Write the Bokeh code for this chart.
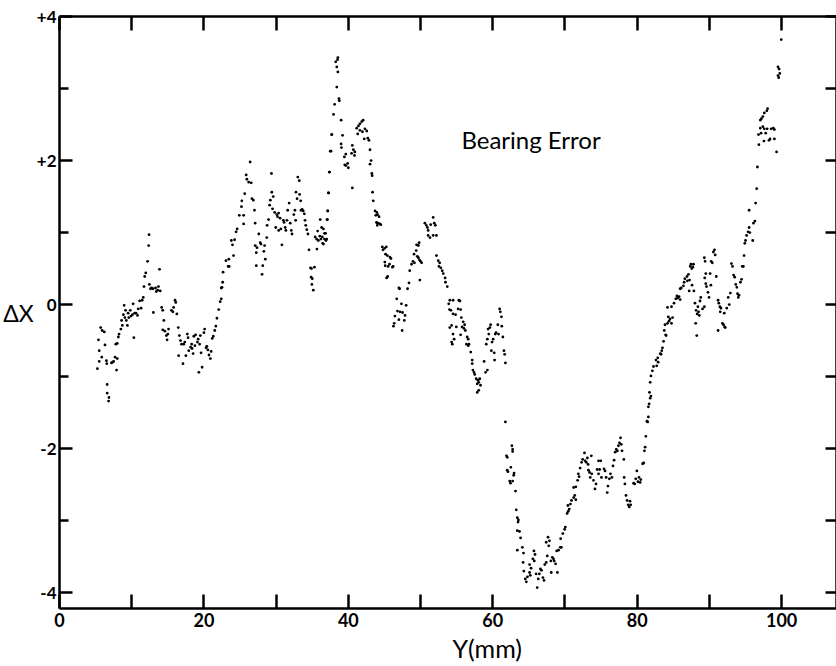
from bokeh.plotting import figure
from bokeh.models import LinearAxis, Range1d, FixedTicker, Label, Title
from bokeh.embed import file_html
from bokeh.resources import INLINE

# ---- data: Y position (mm) and bearing error dX ----
y_mm_a = [5.25,5.4,5.5,5.5,5.7,5.85,5.9,6.2,6.3,6.5, 6.55,6.6,6.6,6.85,6.8,7.2,7.35,7.5,7.7,7.9,
          8.0,7.8,8.0,8.15,8.25,8.5,8.6,8.7,8.85,8.95, 9.05,9.15,9.25,9.4,9.5,9.6,9.8,9.9,10.1,10.2,
          10.3,10.4,10.6,10.8,10.9,11.1,11.3,11.45,11.6,11.7, 11.8,11.95,12.2,12.35,12.4,12.45,12.6,12.75,12.95,13.3,
          13.4,13.6,13.7,13.85,13.95,13.0,14.15,14.3,14.45,14.3, 14.6,14.8,14.9,15.0,15.1,15.5,15.7,15.8,16.0,16.1,
          16.25,16.45,16.6,16.75,16.9,16.5,17.1,17.2,17.35,17.5, 17.7,17.8,17.9,18.15,18.3,18.35,18.5,18.6,18.75,18.85,
          19.1,19.2,19.3,19.4,19.5,19.6,19.75,20.0,20.1,20.3, 20.4,20.55,20.7,20.9,21.0,21.15,21.3,21.5,21.65,21.8,
          22.05,22.25,22.4]
dx_a = [-0.89,-0.49,-0.79,-0.64,-0.32,-0.73,-0.36,-0.38,-0.56,-0.78, -0.82,-1.11,-1.23,-1.29,-1.34,-0.81,-0.80,-0.79,-0.73,-0.91,
        -0.75,-0.55,-0.54,-0.45,-0.41,-0.34,-0.22,-0.29,-0.14,-0.01, -0.18,-0.08,-0.22,-0.29,-0.12,-0.18,-0.08,-0.16,-0.14,0.01,
        -0.46,-0.12,-0.12,-0.15,-0.06,0.05,-0.05,0.06,0.10,0.25, 0.39,0.44,0.60,0.82,0.97,0.28,0.22,0.23,0.22,0.23,
        0.18,0.2,0.25,0.49,0.19,-0.11,-0.04,-0.08,-0.22,-0.35, -0.37,-0.43,-0.49,-0.41,-0.34,-0.08,-0.10,-0.04,0.06,0.03,
        -0.13,-0.32,-0.43,-0.5,-0.55,-0.71,-0.82,-0.55,-0.52,-0.71, -0.41,-0.46,-0.64,-0.59,-0.55,-0.61,-0.68,-0.44,-0.57,-0.42,
        -0.52,-0.48,-0.94,-0.55,-0.43,-0.67,-0.87,-0.39,-0.34,-0.6, -0.58,-0.63,-0.7,-0.75,-0.65,-0.47,-0.44,-0.36,-0.3,-0.19,
        -0.07,0.04,0.23]

y_mm_b = [22.4,22.5,22.6,22.65,23.05,23.35,23.5,23.45,23.8,23.95, 24.1,24.25,24.45,24.6,24.9,25.2,25.25,25.5,25.5,25.65,
          25.85,25.95,26.2,26.4,26.55,26.65,26.85,27.0,27.1,27.1, 27.25,27.35,27.25,27.6,27.8,27.9,28.15,28.05,28.3,28.4,
          28.5,28.7,28.75,28.95,29.1,29.2,29.4,29.35,29.5,29.6, 29.8,29.95,30.1,30.2,30.35,30.55,30.35,30.65,30.8,31.0,
          31.1,31.25,31.35,31.5,31.6,31.8,31.95,32.1,32.2,32.45, 32.6,32.7,32.75,32.9,33.0,33.2,33.25,33.4,33.45,33.6,
          33.75,33.9,34.0,34.1,34.25,34.4,34.55,34.75,34.9,34.85, 35.0,34.95,35.15,35.3,35.4,35.6,35.75,35.85,35.65,36.05,
          36.2,36.3,36.4,36.55,36.7,36.85,37.0,36.1,37.1,37.15, 37.25,37.4,37.6,37.7]
dx_b = [0.08,0.24,0.31,0.45,0.61,0.53,0.53,0.63,0.89,0.83, 0.68,0.9,1.01,1.05,1.24,1.36,1.44,1.12,1.24,1.54,
        1.8,1.74,1.7,1.98,1.69,1.47,1.45,1.31,1.13,0.82, 0.72,0.79,0.54,0.98,0.86,0.84,0.54,0.42,0.74,0.82,
        0.63,0.93,1.1,1.18,1.38,1.45,1.56,1.82,1.33,1.5, 1.28,1.07,1.25,1.22,1.27,1.2,1.03,1.05,0.83,1.17,
        1.14,1.07,1.03,1.17,1.31,1.41,1.13,1.03,0.98,1.25, 1.31,1.17,1.56,1.47,1.77,1.72,1.53,1.44,1.31,1.32,
        1.3,1.26,1.17,1.1,1.04,0.98,0.76,0.51,0.5,0.38, 0.36,0.28,0.2,0.52,0.94,0.91,1.02,0.89,0.77,0.95,
        0.91,1.07,0.94,0.84,0.91,0.99,0.91,1.18,1.18,1.3, 1.55,1.84,2.13,2.36]

y_mm_c = [38.55,38.5,38.25,38.4,38.55,38.4,38.7,38.75,38.1,37.95, 39.0,37.7,39.2,37.5,39.0,39.05,39.65,39.45,39.65,39.9,
          40.0,39.5,40.55,40.7,40.45,40.85,40.9,40.55,37.35,37.25, 37.15,37.05,36.55,36.7,36.9,36.45,41.15,41.4,41.6,41.85,
          42.05,41.6,41.95,42.3,42.55,41.3,42.2,42.7,42.85,43.0, 43.15,43.0,43.25,43.3,43.35,43.45,43.7,43.95,43.8,44.05,
          44.25,43.9,44.1,44.35,44.0,44.5,44.7,45.0,44.8,45.25, 45.15,45.4,45.75,45.9,45.05,45.1,45.5,45.7,46.1,46.2,
          45.45,45.3,47.0,47.1,48.4,48.2,46.7,47.35,48.0,46.8, 47.15,47.5,47.85,46.45,47.0,47.75,46.35,46.25,47.45,48.5,
          48.75,48.95,49.15,49.1,49.4,49.55,49.7,49.85,50.0,50.15, 49.9,49.7,49.8,49.45,50.6,50.8,50.95,51.05,51.4,51.75,
          51.9,52.05,51.05,51.3,51.75,52.2,52.2,52.45,52.65,52.55, 52.8,53.0,53.15,53.4,53.45,53.7,53.9,54.0,54.05]
dx_c = [3.43,3.4,3.37,3.3,3.23,3.02,2.86,2.83,2.78,2.64, 2.56,2.36,2.35,2.13,2.23,2.18,2.09,2.05,1.93,1.96,
        1.9,1.94,2.21,2.15,2.1,2.07,2.12,1.62,1.84,1.55, 1.3,1.18,1.05,0.99,0.89,0.85,2.45,2.48,2.51,2.54,
        2.56,2.42,2.4,2.44,2.41,2.37,2.3,2.31,2.28,2.15, 2.0,1.95,1.82,1.79,1.56,1.44,1.3,1.28,1.24,1.25,
        1.22,1.14,1.13,1.12,1.1,1.11,0.8,0.78,0.76,0.8, 0.7,0.68,0.66,0.64,0.59,0.54,0.53,0.56,0.52,0.53,
        0.39,0.37,0.23,0.22,0.3,0.22,0.08,0.01,-0.01,-0.09, -0.1,-0.11,-0.15,-0.16,-0.21,-0.22,-0.26,-0.3,-0.36,0.47,
        0.56,0.6,0.58,0.7,0.75,0.67,0.65,0.62,0.6,0.58, 0.34,0.82,0.86,0.83,1.13,1.1,1.07,1.03,1.11,1.21,
        1.13,1.1,0.96,0.93,0.96,0.96,0.68,0.61,0.58,0.53, 0.51,0.47,0.43,0.37,0.31,0.25,0.01,-0.07,-0.32]

y_mm_d = [54.05,54.5,55.3,55.45,55.2,55.55,54.2,54.5,54.85,55.65, 55.9,55.75,56.1,56.0,56.2,54.3,54.5,54.65,54.3,54.4,
          54.95,55.55,56.45,56.6,56.35,56.6,56.7,56.95,57.15,57.15, 57.25,57.4,57.5,57.7,57.95,58.05,58.2,57.85,58.05,57.85,
          58.3,58.8,59.0,59.25,59.1,59.25,59.45,59.6,59.7,59.35, 59.9,60.05,59.8,60.2,60.25,60.35,60.45,60.7,60.8,60.95,
          61.05,61.2,61.25,61.4,61.55,61.65,61.75]
dx_d = [0.06,0.06,0.06,0.05,-0.06,-0.07,-0.08,-0.13,-0.14,-0.18, -0.24,-0.31,-0.28,-0.33,-0.36,-0.29,-0.41,-0.48,-0.52,-0.55,
        -0.31,-0.42,-0.45,-0.48,-0.55,-0.57,-0.55,-0.66,-0.77,-0.82, -0.91,-0.94,-0.97,-1.03,-1.05,-1.08,-1.03,-1.1,-1.19,-1.22,
        -1.12,-0.79,-0.94,-0.91,-0.55,-0.48,-0.41,-0.32,-0.28,-0.34, -0.52,-0.48,-0.64,-0.67,-0.77,-0.41,-0.39,-0.28,-0.41,-0.06,
        -0.1,-0.17,-0.3,-0.45,-0.64,-0.69,-0.81]

y_mm_e = [61.75,61.9,62.0,62.65,62.75,62.75,62.0,62.1,62.5,62.95, 62.9,62.35,62.45,62.75,63.15,63.25,63.4,63.55,63.5,63.4,
          63.7,63.85,63.4,64.1,64.25,64.2,64.3,64.5,64.65,64.8, 65.1,65.2,65.1,65.3,65.55,65.7,65.85,65.75,66.0,66.15,
          66.3,66.45,66.6,66.75,66.95,67.1,67.2,67.4,67.55,67.4, 67.65,67.85,67.75,68.05,68.25,68.4,68.5,68.1,68.7,68.95,
          68.85,69.1,69.35,69.5,69.4,69.7,69.95,70.05,70.3,70.45, 70.4,70.75,70.6,70.9,71.2,71.35,71.5,71.2,71.5,71.75,
          71.95,71.85,72.1,72.3,72.45,72.7,72.8,72.95,73.1,73.2, 73.25,73.4,73.65,73.5,73.7,73.95,74.15,74.3,74.45,74.65,
          74.8,74.95,74.65,75.05,75.4,75.55,75.7,75.85,75.95,76.15, 76.3,76.5,76.65,76.8,76.95,77.1,77.25,77.4,77.55,77.7,
          77.8,77.9,78.15,78.2,78.3,78.45,78.6,78.75,79.0,78.9, 79.1,79.5,79.65,79.8,79.95,80.1,80.25,80.4,80.5,80.75,
          80.9,81.0,81.1,81.2,81.45,81.55,81.65,81.8,81.9,81.9,
          81.55,81.35,81.7,81.8,82.1,82.25,82.7,82.9,83.3,83.5,84.0]
dx_e = [-1.63,-2.1,-2.12,-1.96,-2.01,-2.04,-2.3,-2.32,-2.26,-2.34, -2.37,-2.45,-2.48,-2.45,-2.59,-2.85,-2.96,-2.99,-3.02,-3.14,
        -3.15,-3.24,-3.41,-3.37,-3.45,-3.58,-3.7,-3.81,-3.85,-3.78, -3.72,-3.76,-3.61,-3.66,-3.53,-3.42,-3.47,-3.56,-3.74,-3.93,
        -3.81,-3.74,-3.67,-3.69,-3.79,-3.83,-3.61,-3.58,-3.49,-3.3, -3.23,-3.28,-3.35,-3.56,-3.51,-3.53,-3.56,-3.72,-3.6,-3.72,
        -3.42,-3.41,-3.37,-3.37,-3.25,-3.18,-3.12,-3.09,-2.9,-2.87, -2.79,-2.77,-2.84,-2.72,-2.68,-2.65,-2.71,-2.54,-2.53,-2.44,
        -2.39,-2.35,-2.27,-2.19,-2.15,-2.06,-2.17,-2.19,-2.13,-2.22, -2.3,-2.33,-2.1,-2.4,-2.35,-2.44,-2.56,-2.49,-2.29,-2.17,
        -2.29,-2.17,-2.35,-2.4,-2.28,-2.31,-2.4,-2.61,-2.52,-2.42, -2.35,-2.4,-2.24,-2.16,-2.05,-2.01,-2.03,-1.96,-1.92,-1.85,
        -1.94,-2.03,-2.15,-2.4,-2.49,-2.65,-2.72,-2.78,-2.73,-2.81, -2.78,-2.48,-2.49,-2.42,-2.31,-2.46,-2.4,-2.47,-2.43,-2.21,
        -2.2,-2.03,-1.98,-1.83,-1.63,-1.56,-1.38,-1.3,-1.27,-0.99,
        -1.42,-1.62,-1.22,-1.08,-0.92,-0.86,-0.85,-0.8,-0.69,-0.6,-0.43]

y_mm_f = [82.6,82.85,83.2,83.4,83.65,83.75,83.95,83.85,84.2,84.4, 84.55,84.75,84.9,84.3,84.2,84.75,85.1,85.35,85.6,85.8,
          85.5,85.95,86.1,86.4,85.95,86.5,86.6,86.9,87.1,87.25, 87.35,87.7,87.45,87.8,87.55,86.95,87.2,87.6,87.85,88.0,
          88.15,88.3,88.4,88.5,88.6,88.1,88.25,88.7,88.8,89.05, 89.3,89.35,89.5,89.3,89.4,89.5,89.6,89.8,89.95,90.1,
          90.2,90.25,90.4,90.55,90.7,90.8,90.95,91.2,91.3,91.45, 91.6,91.5,91.8,91.95,92.1,92.2,91.2,92.05,92.4,92.6,
          92.75,92.9,93.05,93.35,93.2,93.5,93.65,93.8,93.9,94.0, 94.1,94.3,94.45,94.55,94.7,94.8,94.9,95.0,95.15,95.35,
          95.5,95.6,96.0,96.1,96.3,95.5,96.4,96.55,96.65,96.85, 96.8,97.15,97.05,97.4,97.55,97.6,97.8,98.0,98.25,98.4,
          98.55,98.85,99.0,99.0,99.3,97.05,97.2,97.4,97.6,97.95, 98.05,99.5,99.65,99.75,99.5,99.6,99.95]
dx_f = [-0.77,-0.74,-0.68,-0.64,-0.51,-0.36,-0.42,-0.28,-0.26,-0.23, -0.2,-0.26,-0.18,-0.17,-0.04,-0.03,0.02,0.08,0.09,0.11,
        0.12,0.22,0.23,0.26,0.07,0.31,0.36,0.39,0.42,0.34, 0.53,0.52,0.56,0.56,0.5,0.33,0.19,0.27,0.19,0.02,
        -0.08,-0.13,-0.03,-0.1,-0.15,-0.26,-0.43,0.05,0.1,-0.06, -0.03,0.37,0.29,0.65,0.6,0.43,0.25,0.17,0.1,0.43,
        0.27,0.6,0.58,0.73,0.76,0.69,0.39,0.06,0.02,-0.03, -0.05,-0.1,-0.26,-0.28,-0.31,-0.32,-0.36,-0.12,-0.05,0.1,
        0.0,0.16,0.57,0.41,0.53,0.38,0.28,0.24,0.15,0.1, 0.13,0.31,0.35,0.53,0.53,0.68,0.85,0.89,0.96,1.01,
        1.07,1.0,0.89,1.13,1.16,1.31,1.41,1.61,1.91,2.22, 2.36,2.38,2.45,2.47,2.27,2.44,2.38,2.44,2.28,2.3,
        2.44,2.45,2.43,2.3,2.12,2.56,2.58,2.61,2.66,2.69, 2.72,3.3,3.27,3.21,3.18,3.15,3.68]

x_ticks = [0, 20, 40, 60, 80, 100]
x_minor_ticks = [10, 30, 50, 70, 90]
y_ticks = [-4, -2, 0, 2, 4]
y_minor_ticks = [-3, -1, 1, 3]
y_labels = {4: "+4", 2: "+2", 0: "0", -2: "-2", -4: "-4"}

y_mm = y_mm_a + y_mm_b + y_mm_c + y_mm_d + y_mm_e + y_mm_f
delta_x = dx_a + dx_b + dx_c + dx_d + dx_e + dx_f

FONT = "Lato"

p = figure(width=836, height=666, output_backend="svg", toolbar_location=None,
           x_range=Range1d(0, 107.6), y_range=Range1d(-4.22, 4.0),
           min_border_left=57, min_border_right=0, min_border_top=16, min_border_bottom=58)
p.outline_line_color = None
p.grid.visible = False
p.background_fill_color = "white"
p.border_fill_color = "white"

p.scatter(y_mm, delta_x, marker="circle", size=2.8, fill_color="black", line_color=None)


def style(ax, tick_in, minor_in, font_size):
    ax.axis_line_width = 2.5
    ax.axis_line_color = "black"
    ax.major_tick_line_width = 2.5
    ax.minor_tick_line_width = 2.5
    ax.major_tick_line_color = "black"
    ax.minor_tick_line_color = "black"
    ax.major_tick_out = 0
    ax.minor_tick_out = 0
    ax.major_tick_in = tick_in
    ax.minor_tick_in = minor_in
    ax.major_label_text_font = FONT
    ax.major_label_text_font_size = font_size
    ax.major_label_text_color = "black"
    ax.major_label_text_font_style = "bold"


xa = p.xaxis[0]
xa.ticker = FixedTicker(ticks=x_ticks, minor_ticks=x_minor_ticks)
style(xa, 14, 14, "18px")
xa.major_label_standoff = 4

ya = p.yaxis[0]
ya.ticker = FixedTicker(ticks=y_ticks, minor_ticks=y_minor_ticks)
ya.major_label_overrides = y_labels
style(ya, 13, 9, "17px")
ya.major_label_standoff = 3
ya.axis_label = "ΔX"
ya.axis_label_text_font = FONT
ya.axis_label_text_font_size = "23px"
ya.axis_label_text_font_style = "normal"
ya.axis_label_text_color = "black"
ya.axis_label_standoff = 0
if hasattr(ya, "axis_label_orientation"):
    ya.axis_label_orientation = "horizontal"

top_ticks = x_ticks + x_minor_ticks
top = LinearAxis(ticker=FixedTicker(ticks=top_ticks, minor_ticks=[]))
style(top, 14, 0, "1px")
top.major_label_overrides = {t: "" for t in top_ticks}
top.major_label_standoff = 0
p.add_layout(top, "above")

right_ticks = y_ticks + y_minor_ticks
right = LinearAxis(ticker=FixedTicker(ticks=right_ticks, minor_ticks=[]))
style(right, 11, 0, "1px")
right.major_label_overrides = {t: "" for t in right_ticks}
right.major_label_standoff = 0
p.add_layout(right, "right")

p.add_layout(Label(x=65.3, y=2.29, text="Bearing Error", text_font=FONT, text_font_size="24px",
                   text_align="center", text_baseline="alphabetic", text_color="black"))

p.add_layout(Title(text="Y(mm)", align="left", offset=393, standoff=2, text_font=FONT,
                   text_font_size="25px", text_font_style="normal", text_color="black"), "below")

open("out.html", "w").write(file_html(p, INLINE))
